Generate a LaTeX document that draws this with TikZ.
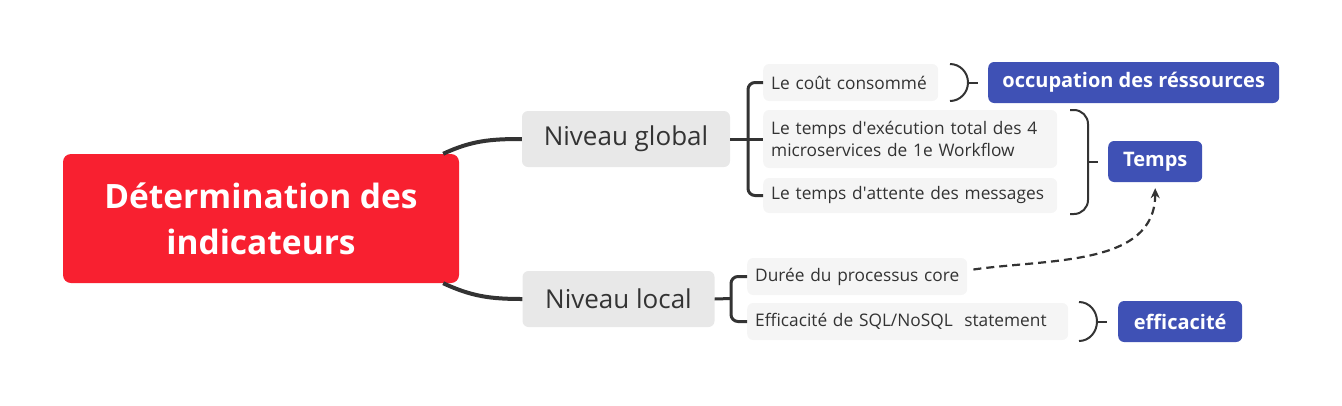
\documentclass[tikz,border=0pt]{standalone}
\usepackage{fontspec}
\setmainfont{Open Sans}[Ligatures=NoCommon]
\definecolor{mmred}{RGB}{248,32,48}
\definecolor{mmblue}{RGB}{63,81,181}
\definecolor{mmgray}{RGB}{232,232,232}
\definecolor{mmlight}{RGB}{245,245,245}
\definecolor{mmline}{RGB}{51,51,51}
\usetikzlibrary{arrows.meta,positioning,calc}

\begin{document}
\begin{tikzpicture}[x=1pt,y=-1pt,
    topic/.style={rectangle, fill=mmgray, rounded corners=6pt, minimum height=56pt,
                  text=mmline, font=\fontsize{26}{30}\selectfont},
    leaf/.style={rectangle, fill=mmlight, rounded corners=6pt, anchor=west, align=left,
                 inner xsep=8pt, text=mmline, font=\fontsize{17.3}{22}\selectfont},
    tag/.style={rectangle, fill=mmblue, rounded corners=6pt, anchor=west, minimum height=41pt,
                text=white, font=\fontsize{20}{22}\selectfont\bfseries},
    brace/.style={draw=mmline, line width=2pt, rounded corners=#1},
    brace/.default=14pt]
  \useasboundingbox (0,0) rectangle (1342,405);
  % main topic
  \node[rectangle, fill=mmred, rounded corners=8pt, minimum width=396pt, minimum height=129pt,
        align=center, text=white, font=\fontsize{33.5}{46}\selectfont\bfseries] (main) at (261,218.5)
    {Détermination des\\indicateurs};
  \node[topic, minimum width=208pt] (global) at (626,139) {Niveau global};
  \node[topic, minimum width=192pt] (local) at (618.5,299) {Niveau local};
  % leaves
  \node[leaf, text width=159pt, minimum height=37pt] (cout) at (763,82.5) {\mbox{Le coût consommé}};
  \node[leaf, text width=278pt, minimum height=58pt] (exec) at (763,139)
    {Le temps d\textquotesingle exécution total des 4\\microservices de 1e Workflow};
  \node[leaf, text width=278pt, minimum height=35pt] (attente) at (763,195.5)
    {\mbox{Le temps d\textquotesingle attente des messages}};
  \node[leaf, text width=204pt, minimum height=37pt] (duree) at (747,276.5)
    {\mbox{Durée du processus core}};
  \node[leaf, text width=305pt, minimum height=37pt] (sqlstmt) at (747,321.5)
    {\mbox{Efficacité de SQL/NoSQL\ \ statement}};
  % summaries
  \node[tag, minimum width=291pt] (occup) at (988,82.5) {occupation des réssources};
  \node[tag, minimum width=94pt] (temps) at (1108,161.5) {Temps};
  \node[tag, minimum width=124pt] (effic) at (1118,321.5) {efficacité};
  % main branches
  \draw[mmline, line width=4pt] ([xshift=-16pt]main.north east) to[out=25, in=180] (global.west);
  \draw[mmline, line width=4pt] ([xshift=-16pt]main.south east) to[out=-25, in=180] (local.west);
  % level brackets
  \coordinate (gj) at (748,139);
  \coordinate (lj) at (731,298.5);
  \draw[mmline, line width=3pt] (global.east) -- (exec.west);
  \draw[mmline, line width=3pt, rounded corners=7pt] (cout.west) -| (gj) |- (attente.west);
  \draw[mmline, line width=3pt] (local.east) -- (lj);
  \draw[mmline, line width=3pt, rounded corners=7pt] (duree.west) -| (lj) |- (sqlstmt.west);
  % summary braces
  \coordinate (b1) at (968,82.5);
  \coordinate (b2) at (1088,161.5);
  \coordinate (b3) at (1097,321.5);
  \draw[mmline, line width=2pt] (950,64) to[out=0, in=90] (b1) to[out=-90, in=0] (950,101);
  \draw[brace] (1070,110) -| (b2) |- (1070,214);
  \draw[mmline, line width=2pt] (1079,302) to[out=0, in=90] (b3) to[out=-90, in=0] (1079,341);
  \draw[mmline, line width=2pt] (b1) -- (978,82.5);
  \draw[mmline, line width=2pt] (b2) -- (1098,161.5);
  \draw[mmline, line width=2pt] (b3) -- (1107,321.5);
  % relation
  \draw[mmline, line width=2.2pt, dash pattern=on 8pt off 5pt, -{Stealth[length=10pt, width=9pt]}]
    ([xshift=6pt, yshift=7pt]duree.east) to[out=8, in=-90] ([yshift=-6pt]temps.south);
\end{tikzpicture}
\end{document}
